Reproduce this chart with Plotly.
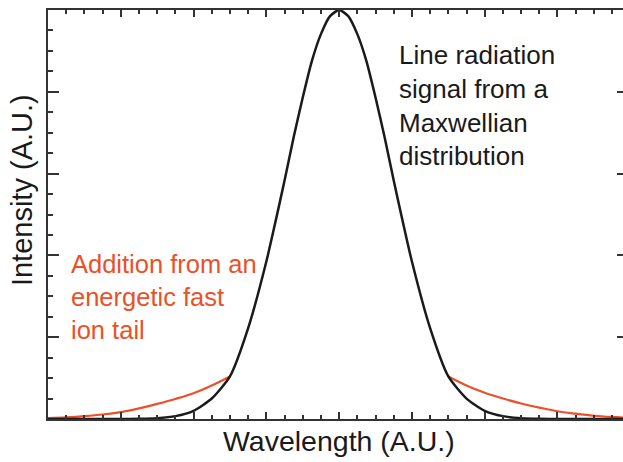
import plotly.graph_objects as go

# Wavelength offsets from line centre (A.U.)
wl_line = [-8.0, -7.0, -6.0, -5.5, -5.0, -4.5, -4.0, -3.5, -3.0, -2.5, -2.0, -1.75, -1.5, -1.25, -1.0,
           -0.75, -0.5, -0.25, 0.0, 0.25, 0.5, 0.75, 1.0, 1.25, 1.5, 1.75, 2.0, 2.5, 3.0, 3.5, 4.0,
           4.5, 5.0, 5.5, 6.0, 7.0, 8.0]
# Maxwellian line profile (normalised intensity)
maxwellian = [0.0, 0.0, 0.0, 0.0005, 0.002, 0.007, 0.02, 0.05, 0.104, 0.222, 0.385, 0.482, 0.583, 0.689,
              0.786, 0.875, 0.941, 0.985, 1.0, 0.985, 0.941, 0.875, 0.786, 0.689, 0.583, 0.482, 0.385,
              0.222, 0.104, 0.05, 0.02, 0.007, 0.002, 0.0005, 0.0, 0.0, 0.0]

# Fast-ion tail contribution, left and right wings
wl_tail_left = [-8.0, -7.5, -7.0, -6.5, -6.0, -5.5, -5.0, -4.5, -4.0, -3.5, -3.0]
tail_left = [0.002, 0.004, 0.007, 0.011, 0.017, 0.026, 0.037, 0.049, 0.063, 0.082, 0.104]
wl_tail_right = [3.0, 3.5, 4.0, 4.5, 5.0, 5.5, 6.0, 6.5, 7.0, 7.5, 8.0]
tail_right = [0.104, 0.082, 0.064, 0.05, 0.038, 0.028, 0.019, 0.013, 0.008, 0.005, 0.003]

BLACK = "#1a1a1a"
RED = "#ea5128"
AXIS = "#333333"

fig = go.Figure()
for xs, ys in ((wl_tail_left, tail_left), (wl_tail_right, tail_right)):
    fig.add_trace(go.Scatter(x=xs, y=ys, mode="lines", line=dict(color=RED, width=2.2, shape="spline"),
                             hoverinfo="skip", showlegend=False, yaxis="y"))
fig.add_trace(go.Scatter(x=wl_line, y=maxwellian, mode="lines",
                         line=dict(color=BLACK, width=2.5, shape="spline", smoothing=0.6),
                         hoverinfo="skip", showlegend=False, yaxis="y2"))

fig.update_layout(
    width=623, height=462,
    margin=dict(l=48, r=0, t=10, b=43),
    paper_bgcolor="white", plot_bgcolor="white",
    font=dict(family="Liberation Sans, Arial, Helvetica, sans-serif", color=BLACK),
    xaxis=dict(range=[-8, 7.8], showgrid=False, zeroline=False, showticklabels=False,
               showline=True, linecolor=AXIS, linewidth=2, mirror="ticks",
               ticks="inside", tick0=0, dtick=2, ticklen=7, tickwidth=2, tickcolor=AXIS,
               minor=dict(ticks="inside", dtick=0.5, tick0=0, ticklen=4, tickwidth=1.5,
                          tickcolor=AXIS, showgrid=False)),
    yaxis=dict(range=[0, 1], showgrid=False, zeroline=False, showticklabels=False,
               showline=True, linecolor=AXIS, linewidth=2, mirror=False,
               ticks="inside", tick0=0, dtick=0.2, ticklen=11, tickwidth=2, tickcolor=AXIS,
               minor=dict(ticks="inside", dtick=0.05, tick0=0, ticklen=5, tickwidth=1.5,
                          tickcolor=AXIS, showgrid=False)),
    yaxis2=dict(range=[0, 1], overlaying="y", side="right", anchor="x", showgrid=False,
                zeroline=False, showticklabels=False, showline=False,
                ticks="inside", tick0=0, dtick=0.2, ticklen=6, tickwidth=2, tickcolor=AXIS),
    annotations=[
        dict(text="Wavelength (A.U.)", xref="x", yref="paper", x=0, y=-0.054,
             xanchor="center", yanchor="middle", showarrow=False, font=dict(size=28.5, color=BLACK)),
        dict(text="Intensity (A.U.)", xref="paper", yref="paper", x=-0.045, y=0.56,
             xanchor="center", yanchor="middle", textangle=-90, showarrow=False,
             font=dict(size=29, color=BLACK)),
        dict(text="Line radiation<br>signal from a<br>Maxwellian<br>distribution",
             xref="paper", yref="paper", x=(397 - 48) / 575, y=(419 - 106) / 409,
             xanchor="left", yanchor="middle", align="left", showarrow=False,
             font=dict(size=26, color=BLACK)),
        dict(text="Addition from an<br>energetic fast<br>ion tail",
             xref="paper", yref="paper", x=(69 - 48) / 575, y=(419 - 297) / 409,
             xanchor="left", yanchor="middle", align="left", showarrow=False,
             font=dict(size=25.5, color=RED)),
    ],
)

fig.write_html("out.html")
